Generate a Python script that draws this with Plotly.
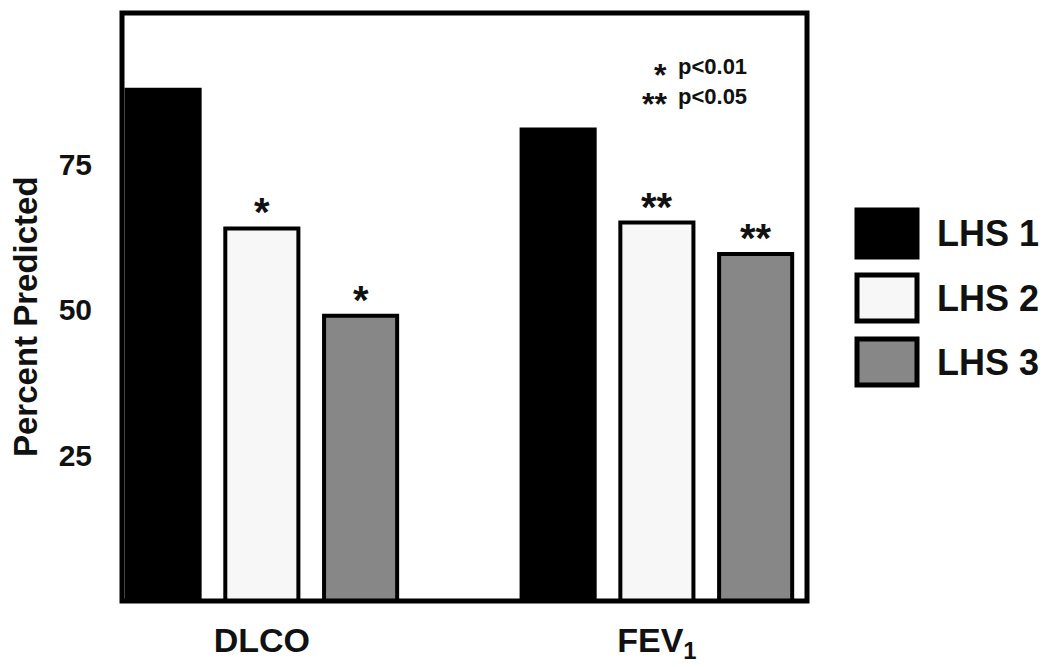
import plotly.graph_objects as go

categories = [0, 1]
category_labels = ["<b>DLCO</b>", "<b>FEV<sub>1</sub></b>"]
series_names = ["LHS 1", "LHS 2", "LHS 3"]
lhs1 = [87.8, 81.0]
lhs2 = [64.0, 65.0]
lhs3 = [49.0, 59.6]
sig_lhs1 = ["", ""]
sig_lhs2 = ["*", "**"]
sig_lhs3 = ["*", "**"]
y_ticks = [25, 50, 75]

fill_colors = ["#000000", "#f7f7f7", "#878787"]
FONT = "Arial, Liberation Sans, sans-serif"

OFF = 8  # page body margin
W, H = 1050 - OFF, 667 - OFF
L, R, T, B = 122 - OFF, 807 - OFF, 13 - OFF, 601 - OFF
PW, PH = R - L, B - T
BARGAP, GROUPGAP = 0.25, 0.26

def px(x):
    return (x - OFF - L) / PW

def py(y):
    return (B - (y - OFF)) / PH

fig = go.Figure()
values = [lhs1, lhs2, lhs3]
for name, vals, col in zip(series_names, values, fill_colors):
    fig.add_trace(go.Bar(
        x=categories, y=vals, name=name,
        marker=dict(color=col, line=dict(color="#000", width=4)),
        showlegend=False,
    ))

# significance asterisks above bars
slot = (1 - BARGAP) / 3
for j, sig in enumerate([sig_lhs1, sig_lhs2, sig_lhs3]):
    for i, s in enumerate(sig):
        if s:
            fig.add_annotation(x=categories[i] + (j - 1) * slot, y=values[j][i],
                               yanchor="bottom", showarrow=False, text=s, yshift=-8,
                               font=dict(family=FONT, size=40, color="#111", weight="bold"))

fig.update_layout(
    width=W, height=H,
    margin=dict(l=L, r=W - R, t=T, b=H - B),
    paper_bgcolor="white", plot_bgcolor="white",
    barmode="group", bargap=BARGAP, bargroupgap=GROUPGAP,
    font=dict(family=FONT, color="#111"),
    xaxis=dict(range=[-0.354, 1.38], tickvals=categories, ticktext=category_labels,
               showgrid=False, zeroline=False, showline=False, ticks="", automargin=False,
               ticklabelstandoff=16,
               tickfont=dict(family=FONT, size=34, color="#111")),
    yaxis=dict(range=[0, 101], tickvals=y_ticks, showgrid=False, zeroline=False,
               showline=False, ticks="", ticklabelstandoff=29, automargin=False,
               tickfont=dict(family=FONT, size=30, color="#111", weight="bold")),
)

# y-axis title
fig.add_annotation(xref="paper", yref="paper", x=px(25), y=py(317), textangle=-90,
                   xanchor="center", yanchor="middle", showarrow=False,
                   text="<b>Percent Predicted</b>",
                   font=dict(family=FONT, size=33, color="#111"))

# plot frame
fig.add_shape(type="rect", xref="paper", yref="paper", x0=0, x1=1, y0=0, y1=1,
              line=dict(color="#000", width=5), fillcolor="rgba(0,0,0,0)", layer="above")

# significance key
for stars, label, yc in [("*", "p<0.01", 67), ("**", "p<0.05", 96)]:
    fig.add_annotation(xref="paper", yref="paper", x=px(669), y=py(yc), xanchor="right",
                       yanchor="middle", showarrow=False, text=stars, yshift=-8,
                       font=dict(family=FONT, size=32, color="#111", weight="bold"))
    fig.add_annotation(xref="paper", yref="paper", x=px(676), y=py(yc), xanchor="left",
                       yanchor="middle", showarrow=False, text=label,
                       font=dict(family=FONT, size=22, color="#111", weight="bold"))

# custom legend
leg_y = [(210, 257), (275, 321), (339, 385)]
for (y0, y1), name, col in zip(leg_y, series_names, fill_colors):
    fig.add_shape(type="rect", xref="paper", yref="paper",
                  x0=px(857), x1=px(917), y0=py(y1), y1=py(y0),
                  fillcolor=col, line=dict(color="#000", width=5))
    fig.add_annotation(xref="paper", yref="paper", x=px(935),
                       y=py((y0 + y1) / 2), xanchor="left", yanchor="middle",
                       showarrow=False, text=name,
                       font=dict(family=FONT, size=36, color="#111", weight="bold"))

fig.write_html("out.html")
